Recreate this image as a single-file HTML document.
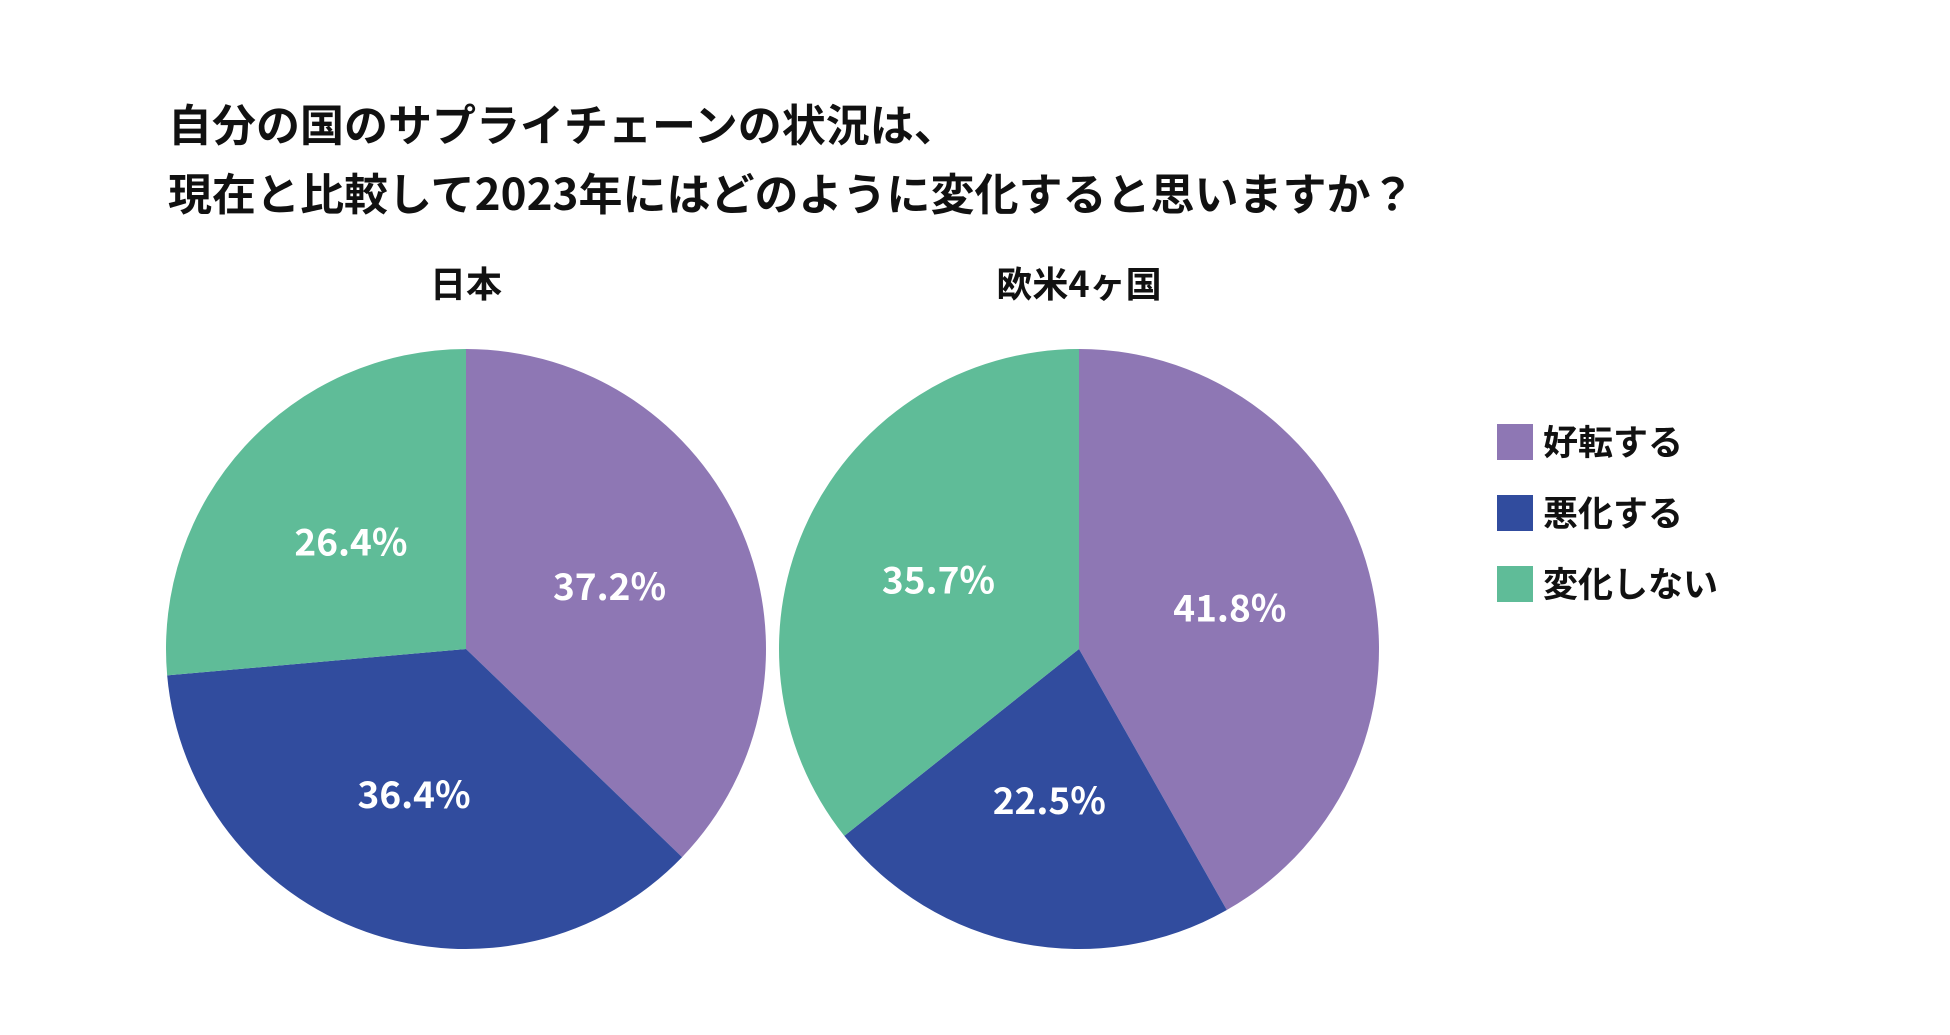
<!DOCTYPE html>
<html><head><meta charset="utf-8"><style>
body{margin:0;background:#fff;}
svg text{font-family:"Noto Sans CJK JP","Liberation Sans",sans-serif;font-weight:bold;}
</style></head><body>
<svg width="1950" height="1030" viewBox="0 0 1950 1030">
<text x="168" y="141" font-size="44" fill="#111">自分の国のサプライチェーンの状況は、</text>
<text x="168" y="210" font-size="44" fill="#111">現在と比較して2023年にはどのように変化すると思いますか？</text>
<g id="pies"></g>
<g id="legend"></g>
</svg>
<script>
const categories=["好転する","悪化する","変化しない"];
const colors=["#8e77b4","#314c9e","#5fbc98"];
const pieTitles=["日本","欧米4ヶ国"];
const japanValues=[37.2,36.4,26.4];
const westValues=[41.8,22.5,35.7];
const series=[japanValues,westValues];
const NS="http://www.w3.org/2000/svg";
const pies=document.getElementById('pies');
const centers=[[466,649],[1079,649]];
const R=300;
function pt(cx,cy,r,a){return [cx+r*Math.sin(a),cy-r*Math.cos(a)];}
series.forEach((vals,i)=>{
  const [cx,cy]=centers[i];
  const tot=vals.reduce((a,b)=>a+b,0);
  const t=document.createElementNS(NS,'text');
  
  
  t.setAttribute('x',cx);t.setAttribute('y',297);t.setAttribute('font-size','36');
  t.setAttribute('text-anchor','middle');t.setAttribute('fill','#111');
  t.textContent=pieTitles[i];pies.appendChild(t);
  let a0=0;
  vals.forEach((v,j)=>{
    const a1=a0+v/tot*2*Math.PI;
    const p0=pt(cx,cy,R,a0),p1=pt(cx,cy,R,a1);
    const p=document.createElementNS(NS,'path');
    
    
    p.setAttribute('d',`M${cx},${cy}L${p0[0]},${p0[1]}A${R},${R} 0 ${a1-a0>Math.PI?1:0} 1 ${p1[0]},${p1[1]}Z`);
    p.setAttribute('fill',colors[j]);pies.appendChild(p);
    const m=pt(cx,cy,R*0.52,(a0+a1)/2);
    const l=document.createElementNS(NS,'text');
    
    
    l.setAttribute('x',m[0]);l.setAttribute('y',m[1]+12);l.setAttribute('font-size','37');
    l.setAttribute('text-anchor','middle');l.setAttribute('fill','#fff');
    l.textContent=v.toFixed(1)+'%';pies.appendChild(l);
    a0=a1;
  });
});
const lg=document.getElementById('legend');
categories.forEach((c,j)=>{
  const y=442+j*71;
  const r=document.createElementNS(NS,'rect');
  
  
  r.setAttribute('x',1497);r.setAttribute('y',y-18);r.setAttribute('width',36);r.setAttribute('height',36);
  r.setAttribute('fill',colors[j]);lg.appendChild(r);
  const t=document.createElementNS(NS,'text');
  
  
  t.setAttribute('x',1543);t.setAttribute('y',y+13);t.setAttribute('font-size','35');t.setAttribute('fill','#111');
  t.textContent=c;lg.appendChild(t);
});
</script>
</body></html>
